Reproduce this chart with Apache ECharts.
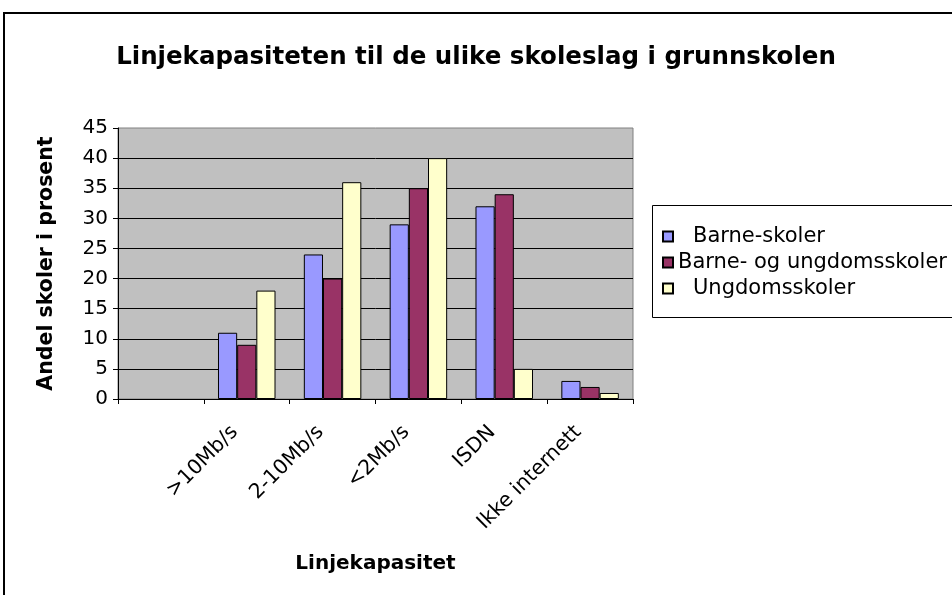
<!DOCTYPE html>
<html>
<head>
<meta charset="utf-8">
<script src="https://cdn.jsdelivr.net/npm/echarts@6/dist/echarts.min.js"></script>
<style>
  html, body { margin: 0; padding: 0; background: #fff; }
  #chart { width: 952px; height: 595px; }
</style>
</head>
<body>
<div id="chart"></div>
<script>
// ---- data ----
const categories = ['', '>10Mb/s', '2-10Mb/s', '<2Mb/s', 'ISDN', 'Ikke internett'];
const seriesNames = ['Barne-skoler', 'Barne- og ungdomsskoler', 'Ungdomsskoler'];
const barneskoler = [null, 11, 24, 29, 32, 3];
const barneOgUngdomsskoler = [null, 9, 20, 35, 34, 2];
const ungdomsskoler = [null, 18, 36, 40, 5, 1];
const yTicks = { min: 0, max: 45, interval: 5 };
const titleText = 'Linjekapasiteten til de ulike skoleslag i grunnskolen';
const xAxisName = 'Linjekapasitet';
const yAxisName = 'Andel skoler i prosent';

const FONT = 'DejaVu Sans';
const colors = ['#9999FF', '#993366', '#FFFFCC'];
const values = [barneskoler, barneOgUngdomsskoler, ungdomsskoler];

const chart = echarts.init(document.getElementById('chart'));
chart.setOption({
  animation: false,
  backgroundColor: '#ffffff',
  title: {
    text: titleText,
    left: 'center',
    top: 40,
    textStyle: { fontFamily: FONT, fontSize: 24.5, fontWeight: 'bold', color: '#000' }
  },
  graphic: [
    {
      type: 'rect', z: -10, silent: true,
      shape: { x: 4, y: 13, width: 1000, height: 700 },
      style: { fill: 'none', stroke: '#000', lineWidth: 2 }
    },
    {
      type: 'rect', z: -5, silent: true,
      shape: { x: 652.5, y: 205.5, width: 400, height: 112 },
      style: { fill: 'none', stroke: '#000', lineWidth: 1 }
    }
  ],
  legend: {
    orient: 'vertical',
    left: 662,
    top: 226,
    padding: 0,
    itemWidth: 10,
    itemHeight: 10,
    itemGap: 5,
    icon: 'rect',
    data: seriesNames,
    formatter: function (name) {
      return name === seriesNames[1] ? '{b|' + name + '}' : '{a|' + name + '}';
    },
    textStyle: {
      fontFamily: FONT, fontSize: 21, color: '#000', lineHeight: 20,
      rich: {
        a: { fontFamily: FONT, fontSize: 21, lineHeight: 20, padding: [0, 0, 0, 15] },
        b: { fontFamily: FONT, fontSize: 21, lineHeight: 20, padding: [0, 0, 0, 0] }
      }
    }
  },
  grid: {
    left: 118, top: 128, right: 319, bottom: 196,
    show: true,
    backgroundColor: '#C0C0C0',
    borderColor: '#808080',
    borderWidth: 1
  },
  xAxis: {
    type: 'category',
    data: categories,
    name: xAxisName,
    nameLocation: 'middle',
    nameGap: 155,
    nameTextStyle: { fontFamily: FONT, fontSize: 20, fontWeight: 'bold', color: '#000' },
    axisLine: { lineStyle: { color: '#000', width: 1 } },
    axisTick: { show: true, length: 5, alignWithLabel: false, lineStyle: { color: '#000' } },
    axisLabel: {
      interval: 0, rotate: 45, margin: 18, padding: [0, 17, 0, 0],
      fontFamily: FONT, fontSize: 20.5, color: '#000'
    },
    splitLine: { show: false }
  },
  yAxis: {
    type: 'value',
    min: yTicks.min,
    max: yTicks.max,
    interval: yTicks.interval,
    name: yAxisName,
    nameLocation: 'middle',
    nameGap: 61,
    nameTextStyle: { fontFamily: FONT, fontSize: 20.5, fontWeight: 'bold', color: '#000' },
    axisLine: { show: true, lineStyle: { color: '#000', width: 1 } },
    axisTick: { show: true, length: 5, lineStyle: { color: '#000' } },
    axisLabel: { margin: 10, fontFamily: FONT, fontSize: 20, color: '#000' },
    splitLine: { show: true, showMinLine: false, showMaxLine: false, lineStyle: { color: '#000', width: 1 } }
  },
  series: seriesNames.map(function (n, i) {
    return {
      name: n,
      type: 'bar',
      data: values[i],
      barGap: '0%',
      barCategoryGap: '33%',
      itemStyle: { color: colors[i], borderColor: '#000', borderWidth: 1 }
    };
  })
});
</script>
</body>
</html>
